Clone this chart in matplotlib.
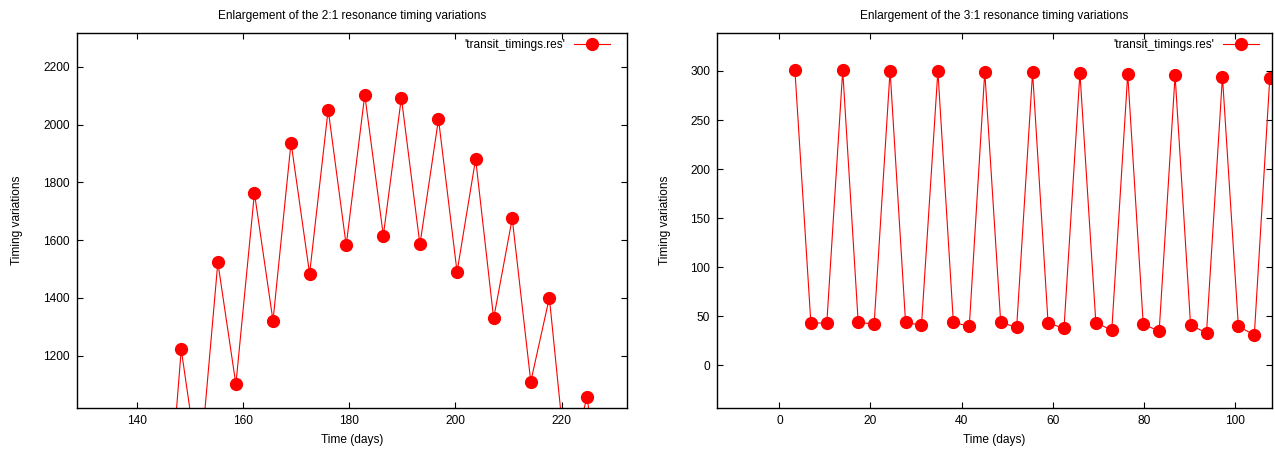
import numpy as np
import matplotlib
matplotlib.use("Agg")
import matplotlib.pyplot as plt

plt.rcParams['font.family'] = ['Liberation Sans', 'DejaVu Sans']
fs = 8.6

# ===== Data =====
# 2:1 resonance (points below the lower limit are partly hidden)
time_21 = [144.8, 148.3, 151.7, 155.2, 158.6, 162.1, 165.6, 169.0, 172.5,
           176.0, 179.4, 182.9, 186.4, 189.8, 193.3, 196.8, 200.3, 203.8,
           207.2, 210.7, 214.2, 217.7, 221.1, 224.8, 228.2]
ttv_21 = [410, 1222, 790, 1523, 1101, 1763, 1321, 1938, 1484,
          2052, 1582, 2103, 1616, 2093, 1585, 2019, 1490, 1881,
          1329, 1675, 1110, 1401, 780, 1058, 600]

# 3:1 resonance
time_31 = [3.4, 6.9, 10.4, 13.9, 17.3, 20.8, 24.3, 27.7, 31.2, 34.8,
           38.2, 41.7, 45.1, 48.6, 52.1, 55.6, 59.0, 62.5, 66.0, 69.5,
           73.0, 76.5, 79.9, 83.4, 86.9, 90.3, 93.8, 97.3, 100.8, 104.3,
           107.7]
ttv_31 = [300.7, 43.5, 42.8, 300.7, 43.8, 42.1, 300.4, 43.8, 40.8, 300.0,
          43.8, 39.8, 299.4, 43.8, 38.7, 298.7, 43.2, 37.7, 298.0, 43.2,
          36.0, 297.0, 42.1, 34.7, 295.6, 41.1, 33.0, 294.3, 39.8, 30.9,
          292.9]

panels = [
    dict(t=time_21, v=ttv_21, title="Enlargement of the 2:1 resonance timing variations",
         xlim=(128.6, 232.3), ylim=(1019, 2316),
         xticks=[140, 160, 180, 200, 220], yticks=[1200, 1400, 1600, 1800, 2000, 2200],
         rect=[0.0602, 0.0993, 0.4314, 0.8272], ylab_x=-0.108, leg_x=0.970),
    dict(t=time_31, v=ttv_31, title="Enlargement of the 3:1 resonance timing variations",
         xlim=(-13.7, 108.2), ylim=(-43.5, 338.4),
         xticks=[0, 20, 40, 60, 80, 100], yticks=[0, 50, 100, 150, 200, 250, 300],
         rect=[0.5624, 0.0993, 0.4353, 0.8272], ylab_x=-0.094, leg_x=0.977),
]

fig = plt.figure(figsize=(12.75, 4.53), dpi=100)

for p in panels:
    ax = fig.add_axes(p['rect'])
    ax.plot(p['t'], p['v'], color='#ff0000', linewidth=0.8, marker='o',
            markersize=8.5, markerfacecolor='#ff0000', markeredgecolor='#ff0000',
            label="'transit_timings.res'")
    ax.set_xlim(*p['xlim'])
    ax.set_ylim(*p['ylim'])
    ax.set_xticks(p['xticks'])
    ax.set_yticks(p['yticks'])
    ax.tick_params(direction='in', length=4, width=0.8, top=True, right=True,
                   labelsize=fs, pad=5, colors='black')
    for s in ax.spines.values():
        s.set_linewidth(1.0)
    ax.set_title(p['title'], fontsize=fs, pad=10)
    ax.set_xlabel("Time (days)", fontsize=fs)
    ax.set_ylabel("Timing variations", fontsize=fs)
    ax.xaxis.set_label_coords(0.5, -0.085)
    ax.xaxis.label.set_va('center')
    ax.yaxis.set_label_coords(p['ylab_x'], 0.5)
    ax.yaxis.label.set_va('center')
    ax.legend(loc='upper right', bbox_to_anchor=(p['leg_x'], 0.985), frameon=False,
              markerfirst=False, numpoints=1, handlelength=3.0, handletextpad=0.8,
              borderaxespad=0, borderpad=0, fontsize=fs)

fig.savefig("out.png", dpi=100)
